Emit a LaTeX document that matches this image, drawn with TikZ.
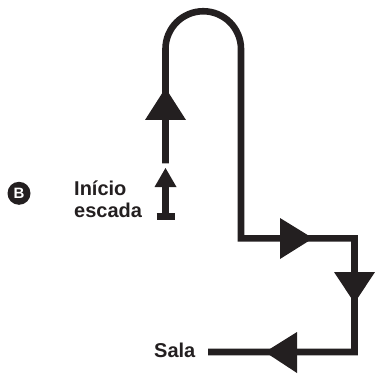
\documentclass[tikz,border=0pt]{standalone}
\usepackage{fontspec}
\setmainfont{Liberation Sans}
\definecolor{ink}{HTML}{231F20}
\begin{document}
\begin{tikzpicture}[x=1pt,y=-1pt,
  route/.style={draw=ink, line width=6.6pt, line join=miter, line cap=butt},
  head/.style={fill=ink},
  lbl/.style={font=\bfseries\fontsize{20}{22}\selectfont, text=ink, inner sep=0pt, anchor=base west}]
\useasboundingbox (0,0) rectangle (374,374);
% label B
\node[circle, fill=ink, text=white, minimum size=23pt, inner sep=0pt,
      font=\bfseries\fontsize{15}{15}\selectfont] (b) at (19,193.3) {B};
\node[lbl] (inicio) at (74,195.5) {Início};
\node[lbl] (escada) at (74,217) {escada};
\node[lbl] (sala) at (154,357.5) {Sala};
% points of the route
\coordinate (p0) at (165.5,163.3);
\coordinate (p1) at (165.5,49);
\coordinate (p2) at (241,238.3);
\coordinate (p3) at (354.5,238.3);
\coordinate (p4) at (354.5,352);
\coordinate (p5) at (208,352);
% start marker
\draw[route] (156.5,216.7) -- (175,216.7);
\draw[route] (165.5,216.7) -- (165.5,186);
\fill[head] (165.5,168) -- (154.5,187) -- (176.5,187) -- cycle;
% main route
\draw[route] (p0) -- (p1) arc[start angle=180, end angle=0, radius=37.75pt] -- (p2 |- 0,49) -- (p2) -- (p3) -- (p4) -- (p5);
% arrow heads
\fill[head] (165.5,88) -- (145,120) -- (186,120) -- cycle;
\fill[head] (313,238.3) -- (280,218) -- (280,259) -- cycle;
\fill[head] (354.5,303) -- (334,272) -- (375,272) -- cycle;
\fill[head] (265,352) -- (297,332) -- (297,373) -- cycle;
\end{tikzpicture}
\end{document}
